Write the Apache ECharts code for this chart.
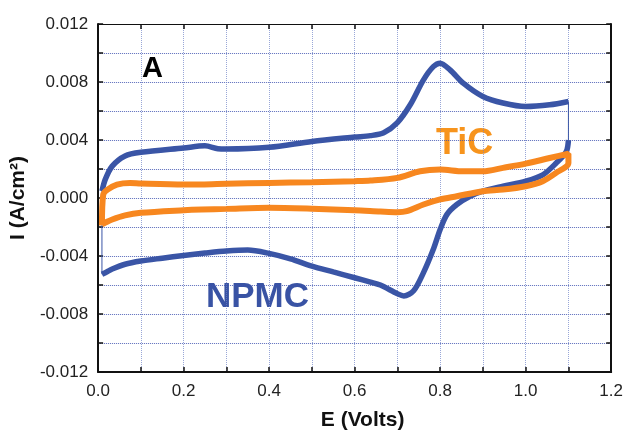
<!DOCTYPE html>
<html>
<head>
<meta charset="utf-8">
<title>CV NPMC / TiC</title>
<script src="https://cdn.jsdelivr.net/npm/echarts@6/dist/echarts.min.js"></script>
<style>
  html, body { margin: 0; padding: 0; background: #fff; }
  #chart { width: 626px; height: 436px; }
</style>
</head>
<body>
<div id="chart"></div>
<script>
// NPMC, cathodic (lower) branch, swept 0 -> 1.1 V
const npmcLowerE = [0.009, 0.02, 0.033, 0.063, 0.1, 0.15, 0.2, 0.25, 0.3, 0.35, 0.4, 0.45, 0.5, 0.55, 0.6, 0.637, 0.66, 0.7, 0.715, 0.738, 0.761, 0.784, 0.8, 0.816, 0.839, 0.87, 0.9, 0.947, 1.0, 1.04, 1.071, 1.095, 1.1]
const npmcLowerI = [-0.00526, -0.0051, -0.0049, -0.00457, -0.00435, -0.00415, -0.00396, -0.0038, -0.00366, -0.00359, -0.00382, -0.0042, -0.0047, -0.0051, -0.0055, -0.0058, -0.0060, -0.0066, -0.00675, -0.0064, -0.00515, -0.00354, -0.00217, -0.00113, -0.00045, 0.00012, 0.00047, 0.00081, 0.00116, 0.0016, 0.0024, 0.0032, 0.0040]
// NPMC, anodic (upper) branch, swept 1.1 -> 0 V
const npmcUpperE = [1.1, 1.056, 1.0, 0.947, 0.9, 0.854, 0.823, 0.8, 0.784, 0.761, 0.73, 0.7, 0.668, 0.637, 0.6, 0.5, 0.4, 0.3, 0.28, 0.25, 0.2, 0.1, 0.063, 0.033, 0.017, 0.009]
const npmcUpperI = [0.00666, 0.00643, 0.00631, 0.00655, 0.0070, 0.00792, 0.00884, 0.0093, 0.00906, 0.00815, 0.00643, 0.0052, 0.0045, 0.0043, 0.0042, 0.0039, 0.0035, 0.00338, 0.0034, 0.0036, 0.00345, 0.00315, 0.0029, 0.0022, 0.0013, 0.00047]

// TiC loop
const ticE = [0.009, 0.012, 0.022, 0.044, 0.075, 0.1, 0.2, 0.242, 0.3, 0.4, 0.5, 0.6, 0.637, 0.7, 0.753, 0.8, 0.854, 0.9, 0.947, 1.0, 1.056, 1.1,
  1.1, 1.071, 1.04, 1.0, 0.947, 0.9, 0.839, 0.8, 0.761, 0.722, 0.7, 0.66, 0.6, 0.5, 0.4, 0.3, 0.242, 0.2, 0.1, 0.063, 0.033, 0.017, 0.009]
const ticI = [-0.0019, 0.00024, 0.00058, 0.00093, 0.00104, 0.0010, 0.00093, 0.00093, 0.00098, 0.00104, 0.00109, 0.00116, 0.0012, 0.00139, 0.00184, 0.00196, 0.00184, 0.00184, 0.00208, 0.00237, 0.00276, 0.00306,
  0.00242, 0.00173, 0.00116, 0.00081, 0.00058, 0.00047, 0.00012, -0.0001, -0.00045, -0.00091, -0.00098, -0.00093, -0.00084, -0.00074, -0.00068, -0.00075, -0.00079, -0.00084, -0.00102, -0.0012, -0.00148, -0.0017, -0.00182]

const xTicks = [0, 0.2, 0.4, 0.6, 0.8, 1.0, 1.2]
const yTicks = [-0.012, -0.008, -0.004, 0, 0.004, 0.008, 0.012]

const zip = (xs, ys) => xs.map((x, i) => [x, ys[i]])
const near = (v, list) => list.some(t => Math.abs(t - v) < 1e-9)

const blue = '#3A55A6'
const orange = '#F7871F'
const font = "'Liberation Sans', Arial, sans-serif"

const lower = zip(npmcLowerE, npmcLowerI)
const upper = zip(npmcUpperE, npmcUpperI)
// thin jumps where the sweep turns around
const jumpRight = [lower[lower.length - 1], upper[0]]
const jumpLeft = [upper[upper.length - 1], lower[0]]

const chart = echarts.init(document.getElementById('chart'))

const hGrid = { show: true, lineStyle: { color: 'rgba(60, 80, 175, 0.85)', type: 'dotted', width: 1 } }
const vGrid = { show: true, lineStyle: { color: 'rgba(110, 130, 200, 0.7)', type: 'dotted', width: 1 } }
const tick = { inside: true, length: 5, lineStyle: { color: '#111', width: 1.5 } }

chart.setOption({
  animation: false,
  backgroundColor: '#fff',
  grid: { left: 96, right: 14, top: 24, bottom: 63 },
  xAxis: [
    {
      type: 'value',
      min: 0,
      max: 1.2,
      interval: 0.1,
      name: 'E (Volts)',
      nameLocation: 'middle',
      nameGap: 38,
      nameTextStyle: { fontFamily: font, fontSize: 21, fontWeight: 'bold', color: '#111', padding: [0, 0, 0, 16] },
      axisLine: { onZero: false, lineStyle: { color: '#111', width: 2 } },
      axisTick: tick,
      axisLabel: {
        fontFamily: font,
        fontSize: 17,
        color: '#222',
        margin: 11,
        formatter: v => near(v, xTicks) ? v.toFixed(1) : ''
      },
      splitLine: vGrid
    },
    {
      type: 'value',
      position: 'top',
      min: 0,
      max: 1.2,
      interval: 0.1,
      axisLine: { show: true, onZero: false, lineStyle: { color: '#111', width: 1 } },
      axisTick: tick,
      axisLabel: { show: false },
      splitLine: { show: false }
    }
  ],
  yAxis: [
    {
      type: 'value',
      min: -0.012,
      max: 0.012,
      interval: 0.002,
      name: 'I (A/cm²)',
      nameLocation: 'middle',
      nameGap: 64,
      nameTextStyle: { fontFamily: font, fontSize: 21, fontWeight: 'bold', color: '#111' },
      axisLine: { onZero: false, lineStyle: { color: '#111', width: 2 } },
      axisTick: tick,
      axisLabel: {
        fontFamily: font,
        fontSize: 17,
        color: '#222',
        margin: 10,
        formatter: v => near(v, yTicks) ? (Math.abs(v) < 1e-9 ? '0.000' : v.toFixed(3)) : ''
      },
      splitLine: hGrid
    },
    {
      type: 'value',
      position: 'right',
      min: -0.012,
      max: 0.012,
      interval: 0.002,
      axisLine: { show: true, onZero: false, lineStyle: { color: '#111', width: 2 } },
      axisTick: tick,
      axisLabel: { show: false },
      splitLine: { show: false }
    }
  ],
  series: [
    {
      name: 'NPMC jump right',
      type: 'line',
      data: jumpRight,
      symbol: 'none',
      lineStyle: { color: blue, width: 1 }
    },
    {
      name: 'NPMC jump left',
      type: 'line',
      data: jumpLeft,
      symbol: 'none',
      lineStyle: { color: blue, width: 1 }
    },
    {
      name: 'NPMC lower',
      type: 'line',
      data: lower,
      symbol: 'none',
      smooth: 0.3,
      lineStyle: { color: blue, width: 5.5 }
    },
    {
      name: 'NPMC upper',
      type: 'line',
      data: upper,
      symbol: 'none',
      smooth: 0.3,
      lineStyle: { color: blue, width: 5.5 }
    },
    {
      name: 'TiC',
      type: 'line',
      data: zip(ticE, ticI),
      symbol: 'none',
      smooth: 0.3,
      lineStyle: { color: orange, width: 6 }
    }
  ],
  graphic: [
    {
      type: 'text',
      left: 142,
      top: 54,
      style: { text: 'A', fontFamily: font, fontSize: 29, fontWeight: 'bold', fill: '#000' }
    },
    {
      type: 'text',
      left: 436,
      top: 126,
      style: { text: 'TiC', fontFamily: font, fontSize: 36, fontWeight: 'bold', fill: '#F7941D' }
    },
    {
      type: 'text',
      left: 206,
      top: 280,
      style: { text: 'NPMC', fontFamily: font, fontSize: 35, fontWeight: 'bold', fill: '#3953A4' }
    }
  ]
})
</script>
</body>
</html>
